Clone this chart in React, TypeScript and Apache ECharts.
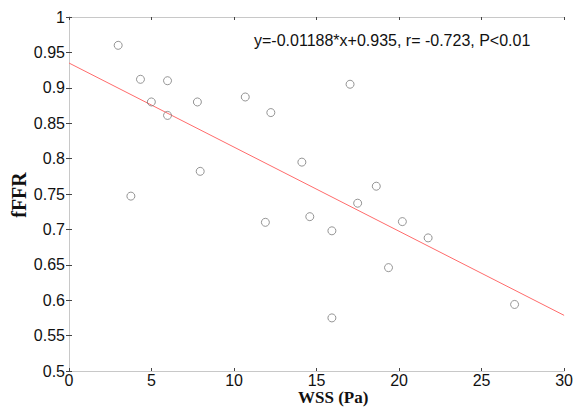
import React, { useEffect, useRef } from "react";
import * as echarts from "echarts";

const wssValues = [2.98, 4.33, 5.97, 4.99, 5.97, 7.78, 10.68, 12.23, 7.95, 3.75, 17.03, 14.11, 18.62, 11.9, 14.59, 17.49, 15.93, 20.2, 21.76, 19.36, 15.93, 27.0];
const fffrValues = [0.96, 0.912, 0.91, 0.88, 0.861, 0.88, 0.887, 0.865, 0.782, 0.747, 0.905, 0.795, 0.761, 0.71, 0.718, 0.737, 0.698, 0.711, 0.688, 0.646, 0.575, 0.594];
const fitX = [0, 30];
const fitY = [0.935, 0.5786];
const annotation = "y=-0.01188*x+0.935, r= -0.723, P<0.01";
const xTitle = "WSS (Pa)";
const yTitle = "fFFR";

export default function App() {
  const ref = useRef<HTMLDivElement>(null);
  useEffect(() => {
    if (!ref.current) return;
    const chart = echarts.init(ref.current, null, { renderer: "svg" });
    const frame = "#c8c8c8";
    const tick = { show: true, inside: true, length: 3, lineStyle: { color: "#444", width: 1 } };
    const lbl = { color: "#111", fontSize: 16, lineHeight: 14, fontFamily: "Liberation Sans, Arial, sans-serif" };
    chart.setOption({
      animation: false,
      backgroundColor: "#ffffff",
      grid: { left: 69, right: 8, top: 17, bottom: 36, containLabel: false },
      xAxis: [
        {
          type: "value", min: 0, max: 30, interval: 5, position: "bottom",
          axisLine: { show: true, lineStyle: { color: frame } },
          axisTick: tick, splitLine: { show: false },
          axisLabel: { ...lbl, margin: 2 },
        },
        {
          type: "value", min: 0, max: 30, interval: 5, position: "top",
          axisLine: { show: true, lineStyle: { color: frame } },
          axisTick: tick, splitLine: { show: false }, axisLabel: { show: false },
        },
      ],
      yAxis: [
        {
          type: "value", min: 0.5, max: 1, interval: 0.05, position: "left",
          axisLine: { show: true, lineStyle: { color: frame } },
          axisTick: tick, splitLine: { show: false },
          axisLabel: { ...lbl, margin: 4 },
        },
        {
          type: "value", min: 0.5, max: 1, interval: 0.05, position: "right",
          axisLine: { show: true, lineStyle: { color: frame } },
          axisTick: tick, splitLine: { show: false }, axisLabel: { show: false },
        },
      ],
      series: [
        {
          type: "line",
          data: fitX.map((x, i) => [x, fitY[i]]),
          symbol: "none",
          lineStyle: { color: "#ff6b6b", width: 1 },
          z: 2,
        },
        {
          type: "scatter",
          data: wssValues.map((x, i) => [x, fffrValues[i]]),
          symbol: "circle",
          symbolSize: 8,
          itemStyle: { color: "rgba(255,255,255,0)", borderColor: "#7a7a7a", borderWidth: 1 },
          z: 3,
        },
      ],
      graphic: [
        {
          type: "text", x: 254, y: 40,
          style: { text: annotation, fontSize: 16, fill: "#111", fontFamily: "Liberation Sans, Arial, sans-serif", verticalAlign: "middle" },
        },
        {
          type: "text", x: 298, y: 397,
          style: { text: xTitle, fontSize: 17, lineHeight: 16, fontWeight: "bold", fill: "#111", fontFamily: "Liberation Serif, Times New Roman, serif", verticalAlign: "middle" },
        },
        {
          type: "text", x: 19, y: 195, rotation: Math.PI / 2,
          style: { text: yTitle, fontSize: 20, fontWeight: "bold", fill: "#111", fontFamily: "Liberation Serif, Times New Roman, serif", align: "center", verticalAlign: "middle" },
        },
      ],
    });
    return () => chart.dispose();
  }, []);
  return <div ref={ref} style={{ width: 576, height: 407, position: "absolute", left: 0, top: 0 }} />;
}
